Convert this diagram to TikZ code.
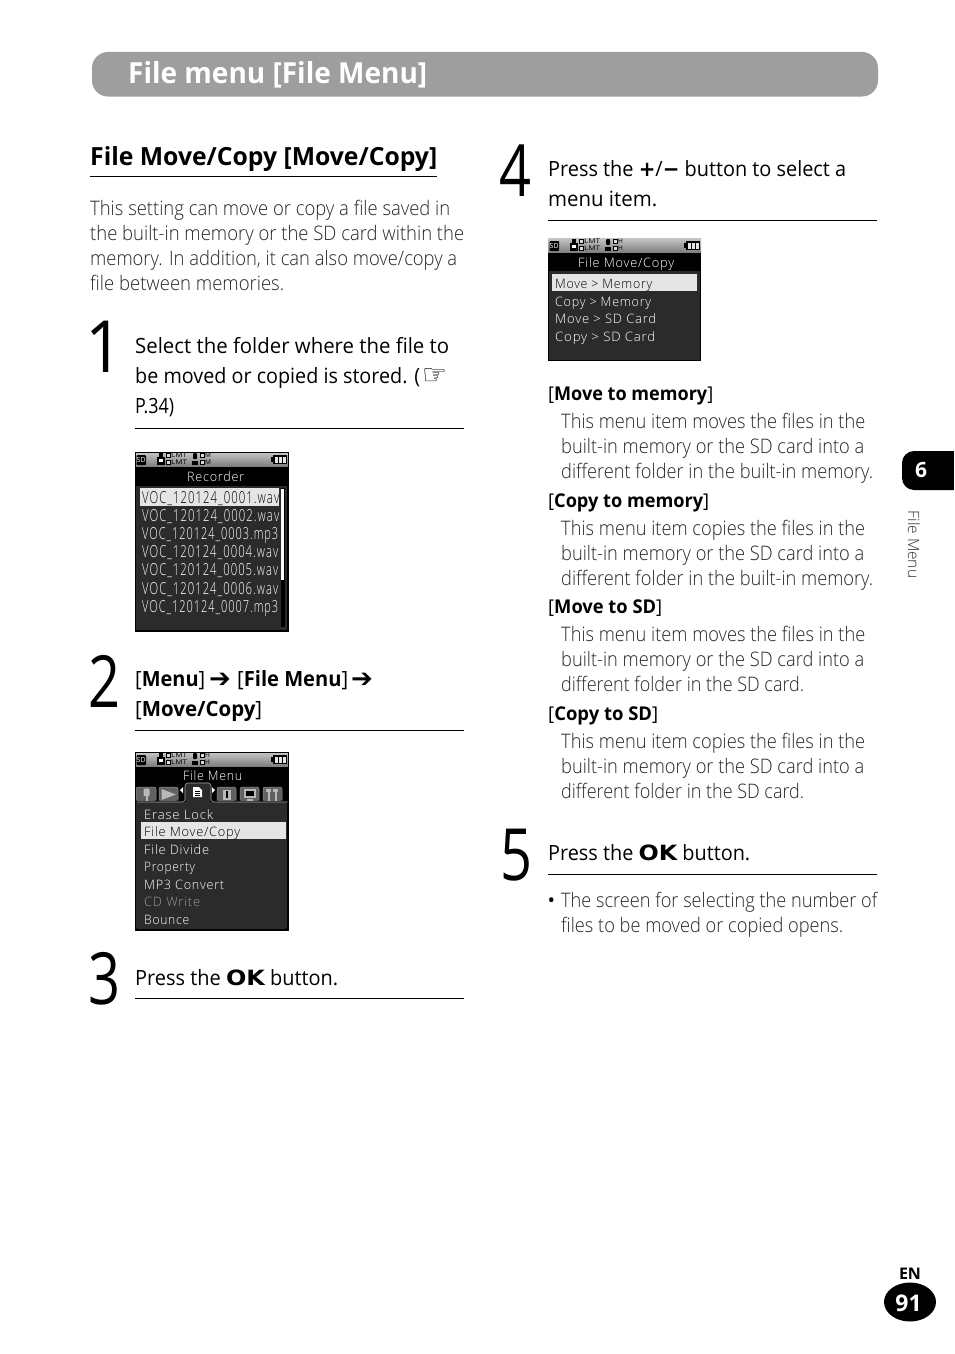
\documentclass[tikz,border=0pt]{standalone}
\usepackage{fontspec}
\setmainfont{Open Sans Light}[BoldFont={Open Sans Bold}]
\newfontfamily\stepfont{Open Sans}[BoldFont={Open Sans Bold}]
\newfontfamily\boldsans{Open Sans}[BoldFont={Open Sans Bold}]
\newfontfamily\symfont{DejaVu Sans}
\newfontfamily\lcdfont{Open Sans Light}[LetterSpace=6]
\newfontfamily\vocfont{Open Sans Light}[LetterSpace=9]
\definecolor{barcol}{gray}{0.62}
\definecolor{statcol}{gray}{0.5}
\definecolor{panelcol}{gray}{0.17}
\definecolor{hl}{gray}{0.9}
\definecolor{tabcol}{gray}{0.38}
\definecolor{tabicon}{gray}{0.72}
\newcounter{tn}
\newcommand{\ft}[5][bodytxt]{\stepcounter{tn}\node[#1] (t\arabic{tn}) at (#2,#3) {\resizebox{#4pt}{\height}{#5}};}
\newcommand{\OK}{\scalebox{1.2}[1]{\symfont\bfseries OK}}
\newcommand{\RA}{{\symfont\bfseries\symbol{"2794}}}
\newcommand{\statusbar}[4]{%
 \begin{scope}[shift={(#2,#3)}]
  \shade[top color=gray!45,bottom color=statcol] (0,0) rectangle (153,14);
  \fill[black,rounded corners=1pt] (1.5,3) rectangle (11,13);
  \node[stat,font=\boldsans\fontsize{7}{7}\selectfont,text=white] (#1sd) at (6.2,8) {SD};
  \fill[black] (22,5) rectangle (30,13);
  \fill[black] (24,1) rectangle (28,5);
  \fill[white] (24,7) rectangle (28,10);
  \draw[black,line width=.7pt,fill=gray!30] (31,1) rectangle (35,5.5);
  \draw[black,line width=.7pt,fill=gray!30] (31,8) rectangle (35,12.5);
  \node[stat,anchor=west] (#1a) at (36,3.4) {\resizebox{16pt}{\height}{LMT}};
  \node[stat,anchor=west] (#1b) at (36,10.4) {\resizebox{16pt}{\height}{LMT}};
  \fill[black,rounded corners=1pt] (58,1) rectangle (62,7);
  \fill[black] (57,8.5) rectangle (63,13);
  \draw[black,line width=.7pt,fill=gray!30] (65,1) rectangle (69,5.5);
  \draw[black,line width=.7pt,fill=gray!30] (65,8) rectangle (69,12.5);
  \node[stat,anchor=west] (#1c) at (70,3.4) {#4};
  \node[stat,anchor=west] (#1d) at (70,10.4) {#4};
  \fill[black] (136,5) rectangle (138,10);
  \fill[black] (138,3) rectangle (152,12);
  \fill[hl] (139.5,4.5) rectangle (143,10.5);
  \fill[hl] (144,4.5) rectangle (147,10.5);
  \fill[hl] (148,4.5) rectangle (151,10.5);
 \end{scope}}
\newcommand{\tabshape}[2]{\fill[tabcol,rounded corners=2pt] (#1,801) -- (#1,787) -- (#2,787) -- (#2,801) -- cycle;
 \draw[gray!85,line width=.5pt,rounded corners=2pt] (#1,801) -- (#1,787) -- (#2,787) -- (#2,801);}
\tikzset{x=1pt,y=-1pt,
 bodytxt/.style={anchor=base west,inner sep=0pt,font=\fontsize{20}{24}\selectfont,text=black!85},
 steptxt/.style={anchor=base west,inner sep=0pt,font=\stepfont\fontsize{21}{26}\selectfont,text=black},
 subtxt/.style={anchor=base west,inner sep=0pt,font=\stepfont\fontsize{19}{24}\selectfont,text=black},
 headtxt/.style={anchor=base west,inner sep=0pt,font=\boldsans\fontsize{25}{28}\selectfont\bfseries,text=black},
 bartxt/.style={anchor=base west,inner sep=0pt,font=\boldsans\fontsize{29}{32}\selectfont\bfseries,text=white},
 lcd/.style={anchor=base west,inner sep=0pt,font=\lcdfont\fontsize{13}{15}\selectfont,text=white},
 lcdk/.style={lcd,text=black},
 lcddim/.style={lcd,text=gray!80},
 voc/.style={anchor=base west,inner sep=0pt,font=\vocfont\fontsize{16.5}{18}\selectfont,text=white},
 vock/.style={voc,text=black},
 stat/.style={inner sep=0pt,font=\boldsans\fontsize{6.5}{7}\selectfont,text=black},
 bignum/.style={anchor=base west,inner sep=0pt,font=\stepfont\fontsize{72}{80}\selectfont,text=black},
 rulethin/.style={line width=0.9pt,black},
}
\begin{document}
\begin{tikzpicture}
\useasboundingbox (0,0) rectangle (954,1354);
\fill[white] (0,0) rectangle (954,1354);
% header
\fill[barcol,rounded corners=16pt] (92,52) rectangle (878,96.5);
\ft[bartxt]{128}{83}{299}{File menu [File Menu]}
% left column
\ft[headtxt]{90}{165.5}{347}{File Move/Copy [Move/Copy]}
\draw[line width=1.5pt] (90,176.5) -- (437,176.5);
\ft{90}{215}{360}{This setting can move or copy a file saved in}
\ft{90}{240}{374}{the built-in memory or the SD card within the}
\ft{90}{265}{367}{memory. In addition, it can also move/copy a}
\ft{90}{290}{194}{file between memories.}
% step 1
\ft[bignum]{85}{372}{38}{1}
\ft[steptxt]{135}{353}{314}{Select the folder where the file to}
\ft[steptxt]{135}{383}{285}{be moved or copied is stored. (}
\node[anchor=base west,inner sep=0pt,font=\symfont\bfseries\fontsize{28}{30}\selectfont,text=black] (hand) at (422,384) {\resizebox{25pt}{\height}{\symbol{"261E}}};
\ft[steptxt]{135}{413}{39}{P.34)}
\draw[rulethin] (135,428.5) -- (464,428.5);
% screen 1
\fill[black] (135,452) rectangle (288,631);
\statusbar{sa}{135}{452}{M}
\ft[lcd]{187}{481}{57}{Recorder}
\fill[panelcol] (136,486) rectangle (287,630);
\draw[black,line width=.8pt] (135.5,452) rectangle (288,631);
\fill[hl] (140,488) rectangle (279,506);
\ft[vock]{142}{503}{137}{VOC\_120124\_0001.wav}
\ft[voc]{142}{521.5}{137}{VOC\_120124\_0002.wav}
\ft[voc]{142}{539.5}{136}{VOC\_120124\_0003.mp3}
\ft[voc]{142}{557.5}{136}{VOC\_120124\_0004.wav}
\ft[voc]{142}{575.5}{136}{VOC\_120124\_0005.wav}
\ft[voc]{142}{594}{136}{VOC\_120124\_0006.wav}
\ft[voc]{142}{612}{136}{VOC\_120124\_0007.mp3}
\fill[black] (281,488) rectangle (285,627);
\fill[white] (281,489) rectangle (284,580);
% step 2
\ft[bignum]{88.5}{707}{32}{2}
\ft[steptxt]{135}{686}{70}{[\textbf{Menu}]}
\node[anchor=base west,inner sep=0pt,font=\fontsize{26}{26}\selectfont] (ra1) at (209,687) {\RA};
\ft[steptxt]{237}{686}{111}{[\textbf{File Menu}]}
\node[anchor=base west,inner sep=0pt,font=\fontsize{26}{26}\selectfont] (ra2) at (351,687) {\RA};
\ft[steptxt]{135}{716}{127}{[\textbf{Move/Copy}]}
\draw[rulethin] (135,730.5) -- (464,730.5);
% screen 2
\fill[black] (135,752) rectangle (288,930);
\statusbar{sb}{135}{752}{H}
\ft[lcd]{183}{780}{59}{File Menu}
\tabshape{136}{156}
\tabshape{159}{178}
\tabshape{217}{236}
\tabshape{240}{259}
\tabshape{263}{282}
\fill[tabicon,rounded corners=1pt] (143.5,788.5) rectangle (149.5,796);
\fill[tabicon] (145.5,796) rectangle (147.5,801);
\fill[tabicon] (161.5,789) -- (176,794.5) -- (161.5,800) -- cycle;
\fill[tabicon] (223,789.5) rectangle (231,800);
\fill[black] (226,791) rectangle (228,798);
\fill[tabicon] (243.5,789) rectangle (256,798);
\fill[black] (245.5,791) rectangle (254,796);
\fill[tabicon] (247,799) rectangle (252.5,800.5);
\fill[tabicon] (266,789) rectangle (271,792);
\fill[tabicon] (267.5,792) rectangle (269.5,800.5);
\fill[tabicon] (273,789) rectangle (278,792);
\fill[tabicon] (274.5,792) rectangle (276.5,800.5);
\fill[white] (180,790) -- (183,787) -- (183,793) -- cycle;
\fill[white] (215,790) -- (212,787) -- (212,793) -- cycle;
\fill[panelcol,rounded corners=2pt] (136,802) rectangle (287,929);
\fill[panelcol,rounded corners=3pt] (185,802.5) -- (185,783) -- (211,783) -- (211,802.5) -- cycle;
\draw[gray!70,line width=.6pt,rounded corners=3pt] (136.5,802) -- (185,802) -- (185,783) -- (211,783) -- (211,802) -- (287.5,802);
\fill[white] (193,787) -- (199,787) -- (202,790) -- (202,797) -- (193,797) -- cycle;
\draw[black,line width=.6pt] (195,791) -- (200,791) (195,793) -- (200,793) (195,795) -- (200,795);
\ft[lcd]{144}{819}{69}{Erase Lock}
\fill[hl] (141,822) rectangle (286,839);
\ft[lcdk]{144}{836}{96}{File Move/Copy}
\ft[lcd]{144}{854}{65}{File Divide}
\ft[lcd]{144}{871}{51}{Property}
\ft[lcd]{144}{889}{80}{MP3 Convert}
\ft[lcddim]{144}{906}{56}{CD Write}
\ft[lcd]{144}{924}{45}{Bounce}
\draw[black,line width=.8pt] (135.5,752) rectangle (288,930);
% step 3
\ft[bignum]{88.5}{1004.5}{32}{3}
\ft[steptxt]{135}{985}{203}{Press the \OK\ button.}
\draw[rulethin] (135,998.5) -- (464,998.5);
% step 4
\ft[bignum]{499.5}{196.5}{32}{4}
\ft[steptxt]{548}{176}{298}{Press the {\symfont\bfseries +}/{\symfont\bfseries −} button to select a}
\ft[steptxt]{548}{206}{109}{menu item.}
\draw[rulethin] (548,220.5) -- (877,220.5);
% screen 3
\fill[black] (548,238) rectangle (701,361);
\statusbar{sc}{548}{238}{H}
\ft[lcd]{578}{267}{96}{File Move/Copy}
\fill[panelcol] (549,271) rectangle (700,360);
\fill[hl] (552,274) rectangle (697,291);
\ft[lcdk]{555}{288}{97}{Move > Memory}
\ft[lcd]{555}{306}{96}{Copy > Memory}
\ft[lcd]{555}{323}{101}{Move > SD Card}
\ft[lcd]{555}{341}{100}{Copy > SD Card}
% right text
\ft[subtxt]{548}{400}{165}{[\textbf{Move to memory}]}
\ft{561}{428.5}{304}{This menu item moves the files in the}
\ft{561}{453.5}{303}{built-in memory or the SD card into a}
\ft{561}{478}{312}{different folder in the built-in memory.}
\ft[subtxt]{548}{507}{161}{[\textbf{Copy to memory}]}
\ft{561}{535.5}{304}{This menu item copies the files in the}
\ft{561}{560.5}{303}{built-in memory or the SD card into a}
\ft{561}{585.5}{312}{different folder in the built-in memory.}
\ft[subtxt]{548}{613}{114}{[\textbf{Move to SD}]}
\ft{561}{641}{304}{This menu item moves the files in the}
\ft{561}{666}{303}{built-in memory or the SD card into a}
\ft{561}{691}{243}{different folder in the SD card.}
\ft[subtxt]{548}{720}{110}{[\textbf{Copy to SD}]}
\ft{561}{748}{304}{This menu item copies the files in the}
\ft{561}{773}{303}{built-in memory or the SD card into a}
\ft{561}{798}{243}{different folder in the SD card.}
% step 5
\ft[bignum]{500.5}{880}{32}{5}
\ft[steptxt]{548}{860}{202}{Press the \OK\ button.}
\draw[rulethin] (548,874.5) -- (877,874.5);
\node[anchor=base west,inner sep=0pt,font=\stepfont\fontsize{20}{24}\selectfont] (bul) at (547.5,907) {•};
\ft{561}{907}{316}{The screen for selecting the number of}
\ft{561}{932}{282}{files to be moved or copied opens.}
% side tab
\fill[black,rounded corners=12pt] (902,451) rectangle (970,490);
\fill[white] (954,445) rectangle (975,495);
\node[inner sep=0pt,font=\boldsans\fontsize{21}{24}\selectfont\bfseries,text=white] (tabsix) at (921,470.5) {6};
\node[inner sep=0pt,rotate=-90,font=\fontsize{15.5}{16}\selectfont,text=black!80] (tabtext) at (914,544.5) {File Menu};
% page number
\node[inner sep=0pt,font=\boldsans\fontsize{16}{18}\selectfont\bfseries] (en) at (910,1273.5) {EN};
\fill[black] (910,1302) ellipse [x radius=26,y radius=19.5];
\node[inner sep=0pt,font=\boldsans\fontsize{23}{26}\selectfont\bfseries,text=white] (pg) at (908.5,1303) {91};
\end{tikzpicture}
\end{document}
